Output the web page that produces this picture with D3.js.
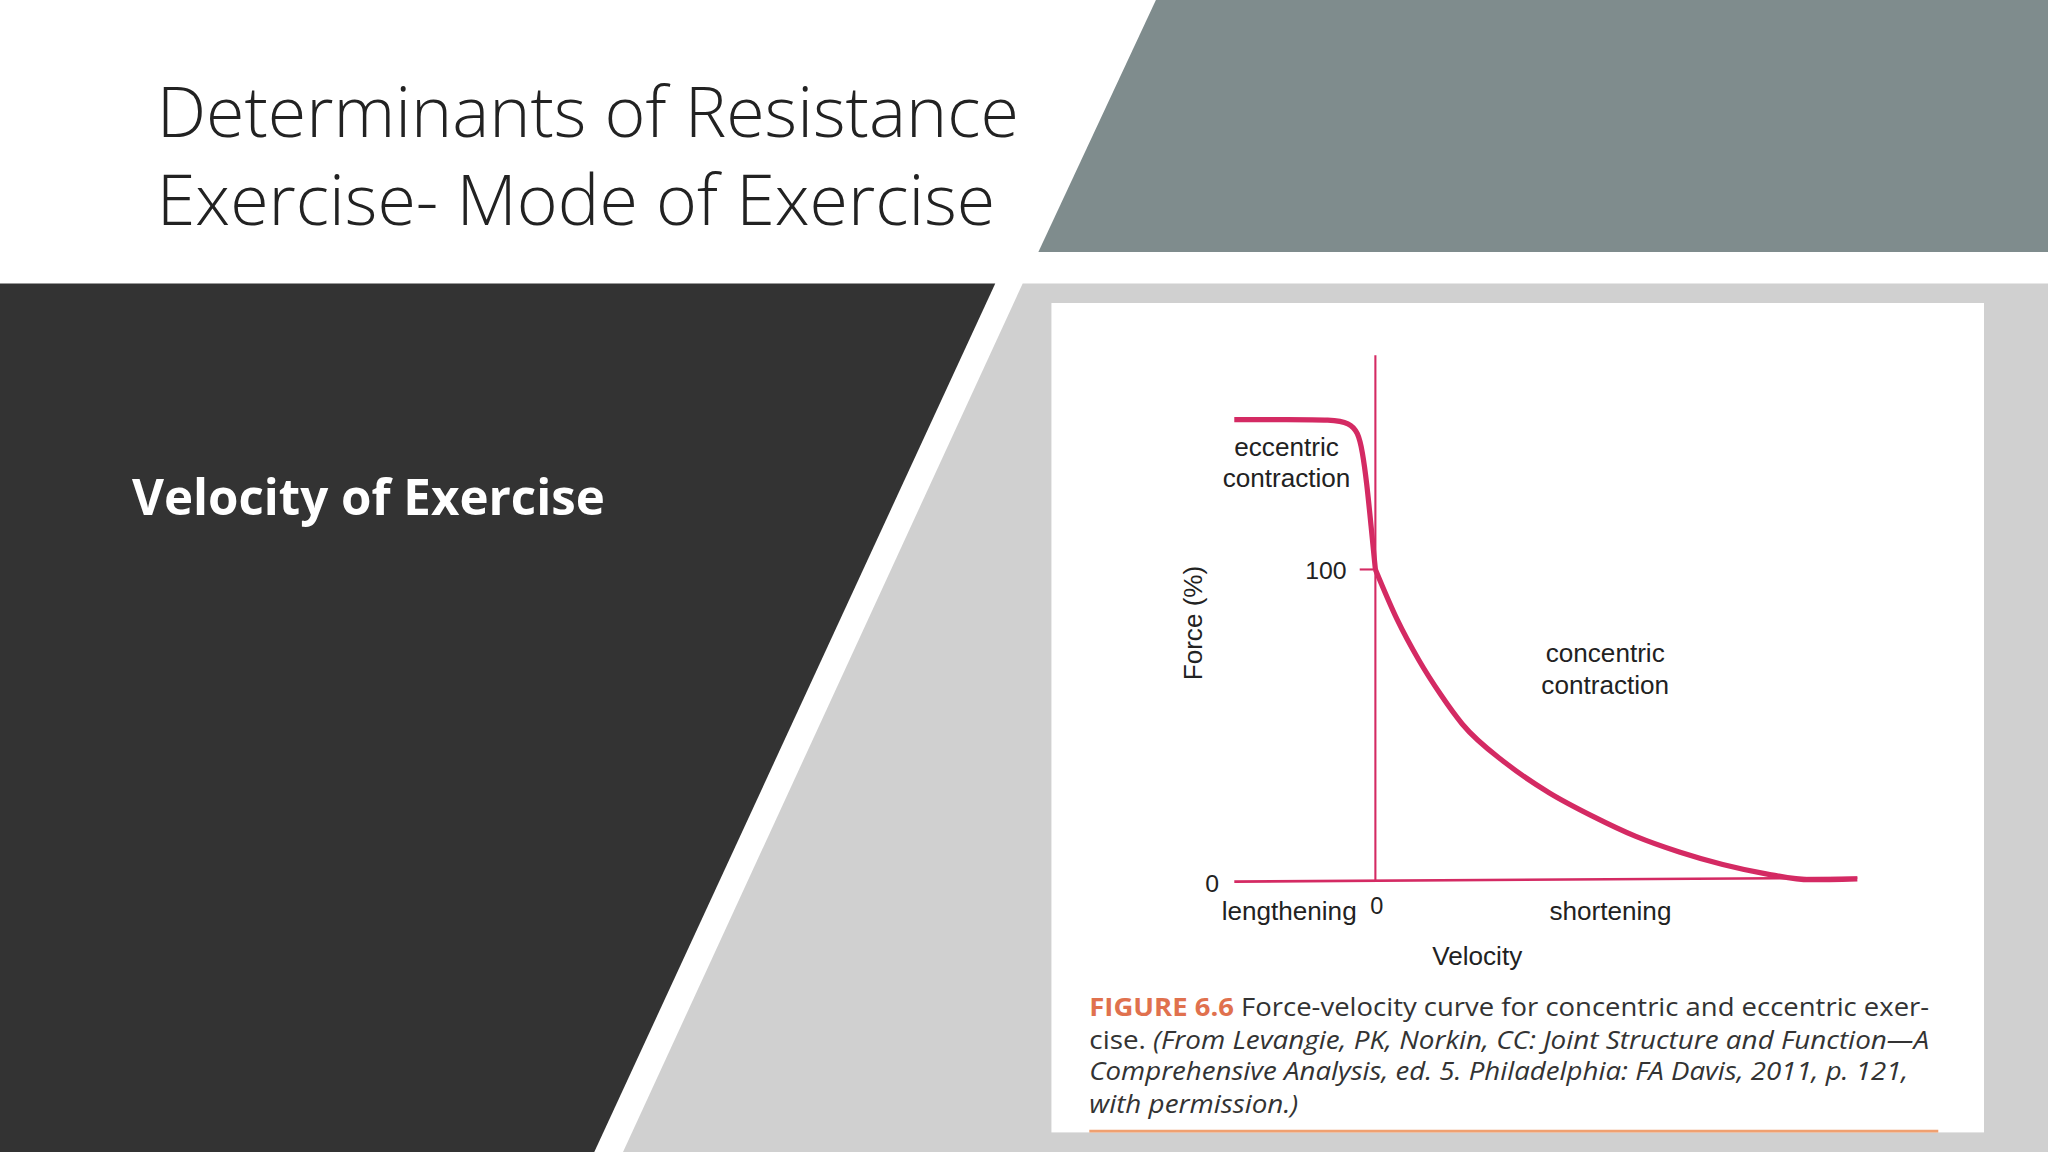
<!DOCTYPE html>
<html><head><meta charset="utf-8">
<script src="https://cdn.jsdelivr.net/npm/d3@7"></script>
<style>html,body{margin:0;padding:0;background:#fff;overflow:hidden}</style>
</head><body>
<script>
// Data
const eccentricVel = [-0.325, -0.2, -0.1, -0.06, -0.04, -0.03, -0.02, -0.01, 0];
const eccentricForce = [148, 148, 148, 147, 144, 138, 128, 114, 100];
const concentricVel = [0, 0.05, 0.1, 0.15, 0.2, 0.3, 0.4, 0.5, 0.6, 0.7, 0.8, 0.9, 1.0, 1.11];
const concentricForce = [100, 84, 71, 60, 50.5, 38, 28.5, 21, 14.5, 9.5, 5.5, 2.5, 0.6, 0.9];
const yTicks = [0, 100];
const xTicks = [0];

const svg = d3.select("body").append("svg")
  .attr("width", 2048).attr("height", 1152)
  .attr("viewBox", "0 0 1568 882");

// background shapes
svg.append("rect").attr("width",1568).attr("height",882).attr("fill","#fff");
svg.append("polygon").attr("points","885,0 1568,0 1568,193 795,193").attr("fill","#7f8c8d");
svg.append("polygon").attr("points","0,217 762,217 455,882 0,882").attr("fill","#333333");
svg.append("polygon").attr("points","783,217 1568,217 1568,882 477,882").attr("fill","#d0d0d0");
svg.append("rect").attr("x",805).attr("y",232).attr("width",714).attr("height",635).attr("fill","#fff");

// Title
const tf = "'Open Sans', 'Noto Sans', sans-serif";
svg.append("text").attr("x",120).attr("y",105).attr("font-family",tf).attr("font-weight",300)
  .attr("font-size",54).attr("fill","#222").attr("textLength",660).attr("lengthAdjust","spacingAndGlyphs")
  .text("Determinants of Resistance");
svg.append("text").attr("x",120).attr("y",172).attr("font-family",tf).attr("font-weight",300)
  .attr("font-size",54).attr("fill","#222").attr("textLength",642).attr("lengthAdjust","spacingAndGlyphs")
  .text("Exercise- Mode of Exercise");
svg.append("text").attr("x",101).attr("y",394).attr("font-family",tf).attr("font-weight",700)
  .attr("font-size",38).attr("fill","#fff").attr("textLength",362).attr("lengthAdjust","spacingAndGlyphs")
  .text("Velocity of Exercise");

// Chart
const pink = "#d42a63";
const x = d3.scaleLinear().domain([-0.325, 1.11]).range([945, 1422]);
const y = d3.scaleLinear().domain([0, 100]).range([675, 436]);
const cf = "'Liberation Sans', Arial, sans-serif";

svg.append("line").attr("x1",x(0)).attr("x2",x(0)).attr("y1",272).attr("y2",y(0))
  .attr("stroke",pink).attr("stroke-width",1.6);
svg.append("line").attr("x1",945).attr("x2",1422).attr("y1",y(0)).attr("y2",y(0)-3)
  .attr("stroke",pink).attr("stroke-width",2);
yTicks.filter(d=>d>0).forEach(t=>{
  svg.append("line").attr("x1",x(0)-12).attr("x2",x(0)).attr("y1",y(t)).attr("y2",y(t))
    .attr("stroke",pink).attr("stroke-width",1.6);
  svg.append("text").attr("x",x(0)-22).attr("y",y(t)+7).attr("text-anchor","end")
    .attr("font-family",cf).attr("font-size",19).attr("fill","#222").text(t);
});
svg.append("text").attr("x",928).attr("y",683).attr("text-anchor","middle")
  .attr("font-family",cf).attr("font-size",19).attr("fill","#222").text(yTicks[0]);
xTicks.forEach(t=>{
  svg.append("text").attr("x",x(t)+1).attr("y",700).attr("text-anchor","middle")
    .attr("font-family",cf).attr("font-size",18).attr("fill","#222").text(t);
});

const ecc = eccentricVel.map((v,i)=>[v,eccentricForce[i]]);
const con = concentricVel.map((v,i)=>[v,concentricForce[i]]);
svg.append("path").attr("d", d3.line().x(d=>x(d[0])).y(d=>y(d[1])).curve(d3.curveBasis)(ecc))
  .attr("fill","none").attr("stroke",pink).attr("stroke-width",4);
svg.append("path").attr("d", d3.line().x(d=>x(d[0])).y(d=>y(d[1])).curve(d3.curveMonotoneX)(con))
  .attr("fill","none").attr("stroke",pink).attr("stroke-width",4);

function label(txt,xx,yy,size,anchor){
  svg.append("text").attr("x",xx).attr("y",yy).attr("text-anchor",anchor||"middle")
    .attr("font-family",cf).attr("font-size",size||20).attr("fill","#222").text(txt);
}
label("eccentric",985,349); label("contraction",985,373);
label("concentric",1229,507); label("contraction",1229,531);
label("lengthening",987,704); label("shortening",1233,704);
label("Velocity",1131,739);
svg.append("text").attr("transform","translate(920,477) rotate(-90)").attr("text-anchor","middle")
  .attr("font-family",cf).attr("font-size",20).attr("fill","#222").text("Force (%)");

// Caption
const capF = "'Open Sans', 'Noto Sans', sans-serif";
const c1 = svg.append("text").attr("x",834).attr("y",778).attr("font-family",capF).attr("font-size",19)
  .attr("fill","#333").attr("textLength",643).attr("lengthAdjust","spacingAndGlyphs");
c1.append("tspan").attr("fill","#e0714e").attr("font-weight",700).text("FIGURE 6.6 ");
c1.append("tspan").text("Force-velocity curve for concentric and eccentric exer-");
const c2 = svg.append("text").attr("x",834).attr("y",803).attr("font-family",capF).attr("font-size",19)
  .attr("fill","#333").attr("textLength",643).attr("lengthAdjust","spacingAndGlyphs");
c2.append("tspan").text("cise. ");
c2.append("tspan").attr("font-style","italic").text("(From Levangie, PK, Norkin, CC: Joint Structure and Function\u2014A");
svg.append("text").attr("x",834).attr("y",827).attr("font-family",capF).attr("font-size",19).attr("font-style","italic")
  .attr("fill","#333").attr("textLength",627).attr("lengthAdjust","spacingAndGlyphs")
  .text("Comprehensive Analysis, ed. 5. Philadelphia: FA Davis, 2011, p. 121,");
svg.append("text").attr("x",834).attr("y",852).attr("font-family",capF).attr("font-size",19).attr("font-style","italic")
  .attr("fill","#333").attr("textLength",160).attr("lengthAdjust","spacingAndGlyphs")
  .text("with permission.)");
svg.append("line").attr("x1",834).attr("x2",1484).attr("y1",866).attr("y2",866).attr("stroke","#f0a070").attr("stroke-width",2);
</script>
</body></html>
